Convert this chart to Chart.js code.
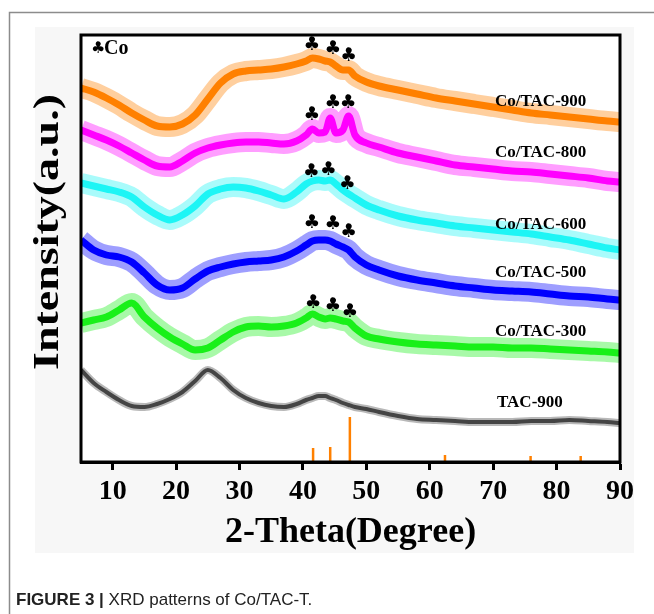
<!DOCTYPE html>
<html>
<head>
<meta charset="utf-8">
<script src="https://cdn.jsdelivr.net/npm/chart.js@4"></script>
<style>
  html, body { margin: 0; padding: 0; background: #fff; }
  #wrap { width: 654px; height: 614px; position: relative; }
</style>
</head>
<body>
<div id="wrap"><canvas id="xrdChart"></canvas></div>
<script>
const theta = [5, 7, 9, 11, 13, 15, 17, 19, 21, 23, 25, 27, 29, 31, 33, 35, 37, 39,
  40.5, 41.5, 42.5, 43.5, 44.3, 45.2, 46.3, 47.2, 48.2,
  50, 52, 55, 58, 61, 64, 67, 70, 73, 76, 79, 82, 85, 88, 90];

// intensities (a.u., stacked with offsets as in the figure)
const coTac900 = [374, 370, 364, 357, 349, 342, 336, 335, 338, 347, 363, 379, 388, 391, 392, 393, 395, 398,
  401, 404, 403, 401, 400, 396, 392, 392, 386,
  380, 376, 372, 368, 364, 361, 358, 355, 352, 349, 347, 345, 343, 341, 340];
const coTac800 = [332, 327, 322, 316, 309, 302, 296, 295, 301, 309, 314, 317, 319, 320, 320, 319, 318, 321,
  327, 333, 329, 330, 344, 329, 332, 346, 327,
  319, 315, 309, 305, 301, 297, 295, 293, 291, 290, 288, 286, 284, 281, 280];
const coTac600 = [279, 276, 273, 270, 265, 255, 247, 242, 247, 256, 268, 273, 275, 274, 271, 267, 263, 270,
  278, 281, 282, 281, 282, 278, 272, 268, 264,
  257, 252, 246, 242, 239, 236, 234, 232, 230, 228, 225, 222, 218, 214, 212];
const coTac500 = [222, 212, 207, 205, 200, 189, 177, 172, 174, 183, 191, 195, 198, 200, 201, 202, 205, 211,
  217, 221, 222, 222, 221, 218, 215, 212, 205,
  197, 192, 186, 182, 179, 176, 174, 172, 171, 170, 168, 166, 165, 163, 162];
const coTac300 = [139, 142, 145, 152, 159, 145, 134, 125, 118, 112, 114, 122, 130, 135, 136, 135, 136, 139,
  144, 148, 145, 143, 144, 143, 141, 140, 134,
  126, 123, 120, 118, 117, 116, 115, 115, 114, 114, 113, 112, 111, 110, 109];
const tac900 = [92, 79, 70, 62, 56, 55, 58, 63, 70, 81, 92, 84, 72, 64, 59, 56, 55, 58,
  62, 64, 66, 66, 64, 62, 59, 57, 55,
  53, 50, 46, 43, 42, 41, 40, 40, 40, 41, 41, 42, 41, 40, 39];

// Co reference lines
const coRefTheta = [41.6, 44.3, 47.4, 62.4, 75.9, 83.8];
const coRefInt = [14, 15, 45, 7, 6, 6];

// club marks (Co peaks) per pattern: [theta, level]
const clubs900 = [[41.4, 417], [44.7, 413], [47.2, 406]];
const clubs800 = [[41.4, 347], [44.7, 359], [47.1, 359]];
const clubs600 = [[41.3, 290], [44.0, 292], [47.0, 278]];
const clubs500 = [[41.4, 239], [44.7, 238], [47.2, 230]];
const clubs300 = [[41.6, 159], [44.7, 156], [47.4, 150]];

const xTicks = [10, 20, 30, 40, 50, 60, 70, 80, 90];
const sampleNames = ['Co/TAC-900', 'Co/TAC-800', 'Co/TAC-600', 'Co/TAC-500', 'Co/TAC-300', 'TAC-900'];
const sampleLabelLevel = [360, 309, 237, 189, 130, 59];

const series = [coTac900, coTac800, coTac600, coTac500, coTac300, tac900];
const colors = ['255,128,0', '255,0,255', '30,245,245', '0,0,255', '25,240,25', '68,68,68'];
const coreW = [7, 7, 7, 7, 7, 4];
const haloW = [20, 20, 20, 20, 20, 8];
const allClubs = [clubs900, clubs800, clubs600, clubs500, clubs300];

const serif = '"Liberation Serif", "Times New Roman", serif';

const datasets = [];
series.forEach((vals, i) => {
  const pts = theta.map((t, k) => ({ x: t, y: vals[k] }));
  // soft wide band standing in for the noise of the scan
  datasets.push({
    label: sampleNames[i] + ' band',
    data: pts,
    borderColor: 'rgba(' + colors[i] + ',0.38)',
    borderWidth: haloW[i],
    pointRadius: 0,
    cubicInterpolationMode: 'monotone',
    fill: false
  });
  datasets.push({
    label: sampleNames[i],
    data: pts,
    borderColor: 'rgb(' + colors[i] + ')',
    borderWidth: coreW[i],
    pointRadius: 0,
    cubicInterpolationMode: 'monotone',
    fill: false
  });
});

coRefTheta.forEach((t, i) => {
  datasets.push({
    label: 'Co ref',
    data: [{ x: t, y: 0 }, { x: t, y: coRefInt[i] }],
    borderColor: '#ff8000',
    borderWidth: 2.5,
    pointRadius: 0,
    fill: false
  });
});

const decor = {
  id: 'decor',
  beforeDraw(chart) {
    const { ctx, chartArea: a } = chart;
    ctx.save();
    ctx.fillStyle = '#fff';
    ctx.fillRect(0, 0, 654, 614);
    ctx.strokeStyle = '#8c8c8c';
    ctx.lineWidth = 1.5;
    ctx.beginPath();
    ctx.moveTo(9.5, 614);
    ctx.lineTo(9.5, 12.5);
    ctx.lineTo(654, 12.5);
    ctx.stroke();
    ctx.fillStyle = '#f7f7f7';
    ctx.fillRect(35, 27, 599, 526);
    ctx.fillStyle = '#fff';
    ctx.fillRect(a.left, a.top, a.width, a.height);
    ctx.restore();
  },
  afterDraw(chart) {
    const { ctx, chartArea: a } = chart;
    const xs = chart.scales.x, ys = chart.scales.y;
    ctx.save();

    // plot frame
    ctx.strokeStyle = '#000';
    ctx.lineWidth = 3;
    ctx.strokeRect(a.left, a.top, a.width, a.height);

    // club marks
    ctx.fillStyle = '#000';
    ctx.font = '19px "DejaVu Sans"';
    ctx.textAlign = 'center';
    ctx.textBaseline = 'middle';
    allClubs.forEach(list => {
      list.forEach(([t, v]) => {
        ctx.fillText('\u2663', xs.getPixelForValue(t), ys.getPixelForValue(v));
      });
    });

    // "♣Co" key
    ctx.textAlign = 'left';
    ctx.font = '16px "DejaVu Sans"';
    ctx.fillText('\u2663', 91, 49);
    ctx.font = 'bold 20px ' + serif;
    ctx.fillText('Co', 104, 49);

    // sample names
    ctx.font = 'bold 17px ' + serif;
    sampleNames.forEach((name, i) => {
      const x = name === 'TAC-900' ? 497 : 495;
      ctx.fillText(name, x, ys.getPixelForValue(sampleLabelLevel[i]));
    });

    // y title (stretched like the original)
    ctx.save();
    ctx.translate(49, 232);
    ctx.rotate(-Math.PI / 2);
    ctx.font = 'bold 36px ' + serif;
    const w = ctx.measureText('Intensity(a.u.)').width;
    ctx.scale(276 / w, 1);
    ctx.textAlign = 'center';
    ctx.fillText('Intensity(a.u.)', 0, 0);
    ctx.restore();

    // caption
    ctx.fillStyle = '#222';
    ctx.font = 'bold 17px "Liberation Sans", Arial, sans-serif';
    ctx.textAlign = 'left';
    ctx.fillText('FIGURE 3 |', 16, 600);
    const cw = ctx.measureText('FIGURE 3 |').width;
    ctx.font = '17px "Liberation Sans", Arial, sans-serif';
    ctx.fillText(' XRD patterns of Co/TAC-T.', 16 + cw, 600);
    ctx.restore();
  }
};

new Chart(document.getElementById('xrdChart'), {
  type: 'line',
  data: { datasets },
  plugins: [decor],
  options: {
    responsive: true,
    maintainAspectRatio: false,
    animation: false,
    events: [],
    layout: { padding: { left: 81, right: 34, top: 35, bottom: 60 } },
    plugins: { legend: { display: false }, tooltip: { enabled: false } },
    scales: {
      x: {
        type: 'linear',
        min: 5,
        max: 90,
        afterBuildTicks: s => { s.ticks = xTicks.map(v => ({ value: v })); },
        afterFit: s => { s.height = 92; },
        grid: { drawOnChartArea: false, drawTicks: true, tickLength: 8, tickWidth: 3, tickColor: '#000' },
        border: { display: true, width: 3, color: '#000' },
        ticks: { color: '#000', padding: 5, font: { family: serif, weight: 'bold', size: 28 } },
        title: {
          display: true,
          text: '2-Theta(Degree)',
          color: '#000',
          padding: { top: 0, bottom: 0 },
          font: { family: serif, weight: 'bold', size: 36 }
        }
      },
      y: {
        display: false,
        min: 0,
        max: 427
      }
    }
  }
});
</script>
</body>
</html>
